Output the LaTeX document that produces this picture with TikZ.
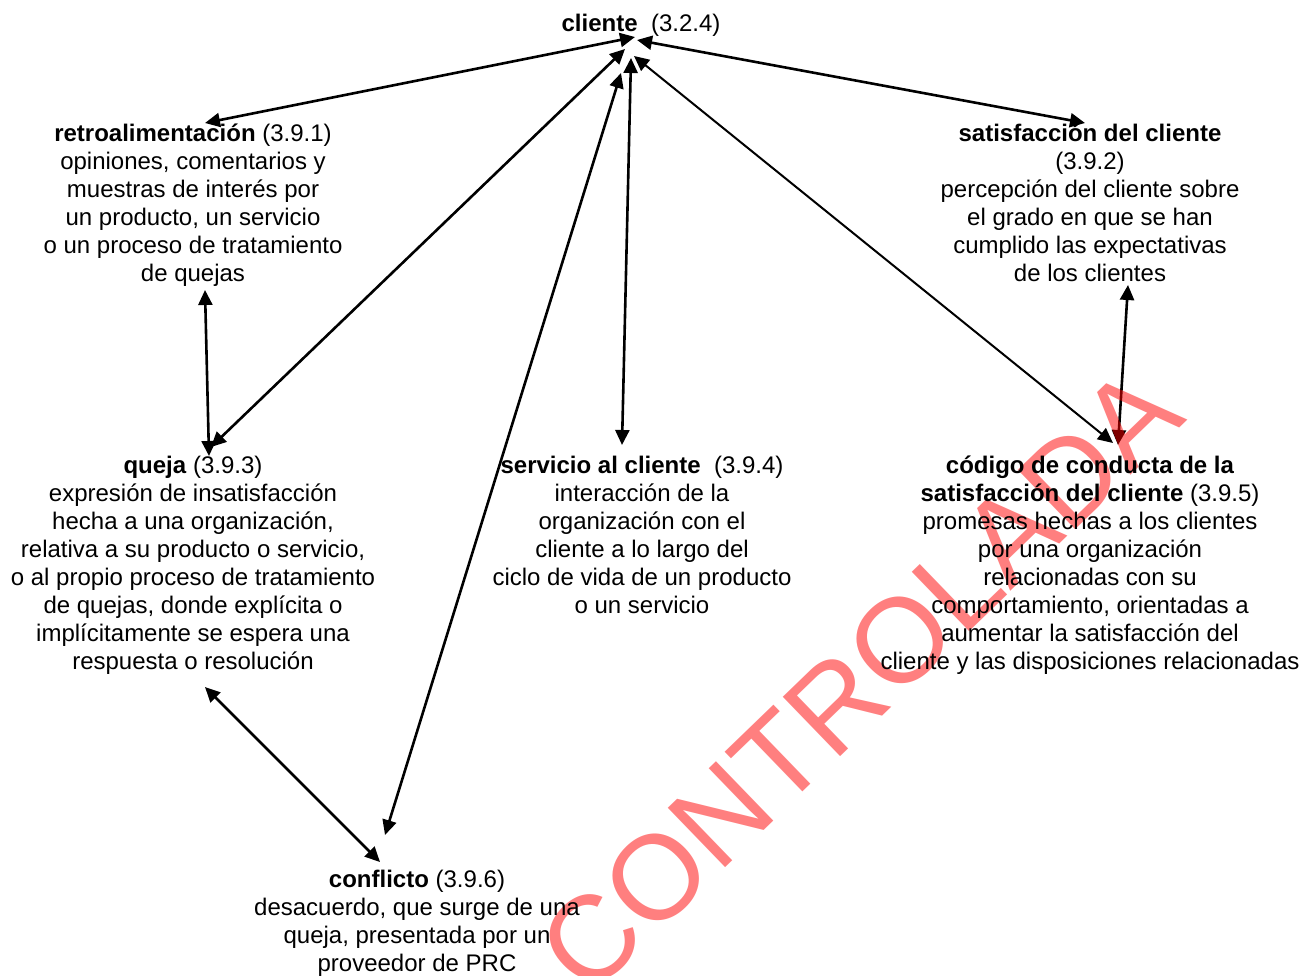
\documentclass[tikz,border=0pt]{standalone}
\usepackage{fontspec}
\setmainfont{Liberation Sans}
\usetikzlibrary{arrows.meta}
\pgfdeclarelayer{bg}
\pgfdeclarelayer{wm}
\pgfsetlayers{bg,wm,main}
\begin{document}
\begin{tikzpicture}[x=0.5pt,y=-0.5pt,
  lbl/.style={align=center, inner sep=0pt, anchor=base, font=\fontsize{12}{13.95}\selectfont},
  link/.style={{Triangle[length=7.5pt,width=7pt]}-{Triangle[length=7.5pt,width=7pt]}, line width=1.3pt},
  thinlink/.style={link, line width=1pt},
  watermark/.style={rotate=44, text=red, opacity=0.5, inner sep=0pt, font=\fontsize{60}{60}\selectfont}]
\useasboundingbox (0,0) rectangle (1307,975);

% text nodes (anchored at the baseline of their last line)
\node[lbl] (cliente) at (641,31) {\textbf{cliente}\ \ (3.2.4)};
\node[lbl] (retro) at (193,281) {\textbf{retroalimentación} (3.9.1)\\opiniones, comentarios y\\muestras de interés por\\un producto, un servicio\\o un proceso de tratamiento\\de quejas};
\node[lbl] (satis) at (1090,281) {\textbf{satisfacción del cliente}\\(3.9.2)\\percepción del cliente sobre\\el grado en que se han\\cumplido las expectativas\\de los clientes};
\node[lbl] (queja) at (193,669) {\textbf{queja} (3.9.3)\\expresión de insatisfacción\\hecha a una organización,\\relativa a su producto o servicio,\\o al propio proceso de tratamiento\\de quejas, donde explícita o\\implícitamente se espera una\\respuesta o resolución};
\node[lbl] (serv) at (642,613) {\textbf{servicio al cliente}\ \ (3.9.4)\\interacción de la\\organización con el\\cliente a lo largo del\\ciclo de vida de un producto\\o un servicio};
\node[lbl] (codigo) at (1090,669) {\textbf{código de conducta de la}\\\textbf{satisfacción del cliente} (3.9.5)\\promesas hechas a los clientes\\por una organización\\relacionadas con su\\comportamiento, orientadas a\\aumentar la satisfacción del\\cliente y las disposiciones relacionadas};
\node[lbl] (conf) at (417,971) {\textbf{conflicto} (3.9.6)\\desacuerdo, que surge de una\\queja, presentada por un\\proveedor de PRC};

% connector end points
\coordinate (cl-r) at (635,37);
\coordinate (r-cl) at (205,123);
\coordinate (cl-s) at (637,40);
\coordinate (s-cl) at (1085,123);
\coordinate (cl-q) at (625,49);
\coordinate (q-cl) at (211,447);
\coordinate (cl-f) at (621,73);
\coordinate (f-cl) at (385,835);
\coordinate (cl-v) at (631,58);
\coordinate (v-cl) at (622,445);
\coordinate (cl-c) at (634,56);
\coordinate (c-cl) at (1113,443);
\coordinate (r-q) at (205,290);
\coordinate (q-r) at (209,456);
\coordinate (s-c) at (1128,285);
\coordinate (c-s) at (1118,445);
\coordinate (q-f) at (205,687);
\coordinate (f-q) at (380,862);

\begin{pgfonlayer}{bg}
\draw[link] (cl-r) -- (r-cl);
\draw[link] (cl-s) -- (s-cl);
\draw[link] (cl-q) -- (q-cl);
\draw[link] (cl-f) -- (f-cl);
\draw[link] (cl-v) -- (v-cl);
\draw[thinlink] (cl-c) -- (c-cl);
\draw[link] (r-q) -- (q-r);
\draw[link] (s-c) -- (c-s);
\draw[link] (q-f) -- (f-q);
\end{pgfonlayer}

\begin{pgfonlayer}{wm}
\node[watermark] (wm) at (860,680) {CONTROLADA};
\end{pgfonlayer}
\end{tikzpicture}
\end{document}
